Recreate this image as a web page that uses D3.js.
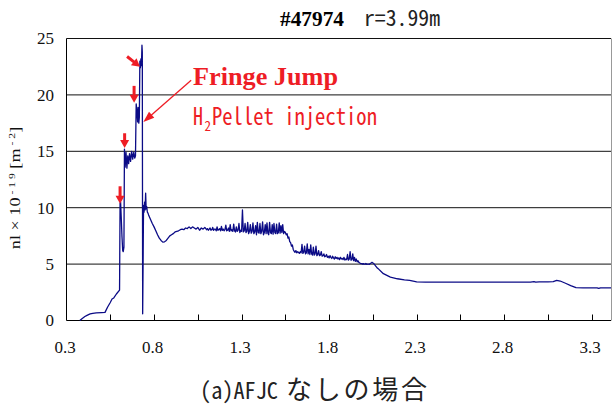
<!DOCTYPE html>
<html><head><meta charset="utf-8">
<script src="https://cdn.jsdelivr.net/npm/d3@7"></script>
<style>body{margin:0;background:#fff} svg{display:block}</style>
</head><body><svg id="c" width="613" height="410"></svg>
<script>
// ---------------- data ----------------
const xLabelTicks = [0.3, 0.8, 1.3, 1.8, 2.3, 2.8, 3.3];
const xMinorTicks = [0.55, 0.8, 1.05, 1.3, 1.55, 1.8, 2.05, 2.3, 2.55, 2.8, 3.05, 3.3];
const yTicks = [0, 5, 10, 15, 20, 25];
const yGrid = [5, 10, 15, 20, 25];

// start-up, pellet jumps and drop (time, nl)
const rampTimes = [0.376,0.39,0.405,0.42,0.435,0.45,0.47,0.50,0.52,0.535,0.55,0.56,0.57,0.585,0.603,
  0.606,0.609,0.613,0.617,0.621,0.624,0.628,0.631,0.635,0.640,0.645,0.650,0.655,0.660,0.666,0.672,0.678,0.684,0.690,0.694,
  0.698,0.702,0.706,0.709,0.713,0.716,0.719,0.722,0.725,0.728,0.731,0.733,0.735,0.738,0.740,0.743,0.746,0.749,0.752,0.755,0.758,0.762,0.766];
const rampValues = [0,0.18,0.35,0.48,0.58,0.64,0.68,0.70,0.72,1.2,1.6,1.9,2.0,2.35,2.7,
  10.4,10.5,9.0,7.4,6.2,6.1,6.5,15.2,13.6,14.9,13.5,14.6,13.9,14.8,14.1,15.0,14.3,14.9,14.4,14.6,
  19.2,18.6,17.6,18.9,17.5,18.0,23.0,22.4,23.2,22.6,24.4,23.8,0.6,6.0,10.2,9.6,10.5,9.8,11.3,9.9,10.1,9.6,9.5];

// post-drop recovery, sampled every 0.01 s from 0.77
const decayStart = 0.77;
const decayValues = [9.3,8.95,8.6,8.3,7.95,7.6,7.3,7.1,6.95,6.98,7.1,7.3,7.5,7.6,7.7,7.85,7.9,7.95,8.05,8.1,
  8.05,8.2,8.15,8.3,8.15,8.3,8.2,8.1,8.25,8.0,8.2,8.1,8.25];

// noisy plateau, sampled every 0.005 s from 1.10
const plateauStart = 1.10;
const plateauValues = [
  8.05,8.15,8.0,8.1,8.2,8.0,8.05,8.25,8.0,8.1,
  8.1,7.95,8.3,8.0,8.05,8.15,7.95,8.35,8.0,8.1,
  7.95,8.05,8.45,7.95,8.0,8.2,7.9,8.5,7.95,8.05,
  7.9,8.55,7.95,7.85,8.3,7.9,8.0,8.6,7.8,8.0,
  7.9,9.8,7.85,7.95,8.6,7.8,7.9,8.7,7.7,7.9,
  8.5,7.75,7.9,8.65,7.7,7.85,8.4,7.6,8.7,7.8,
  7.75,8.6,7.7,7.9,8.75,7.6,7.8,8.5,7.7,8.65,
  7.75,7.6,8.7,7.8,7.7,8.5,7.65,8.6,7.8,7.7,
  8.55,7.7,7.8,8.65,7.75,8.4,7.8,8.5,7.7,7.9];

// second noisy phase, sampled every 0.005 s from 1.55
const secondStart = 1.55;
const secondValues = [
  7.8,7.6,7.7,7.3,7.4,7.0,6.9,6.6,6.7,6.3,
  6.15,6.05,6.2,6.0,6.1,6.05,5.95,6.1,6.0,6.75,
  5.95,6.05,6.6,5.9,6.0,6.8,5.9,6.3,5.85,6.7,
  5.9,5.8,6.5,5.8,5.9,6.6,5.75,5.85,6.2,5.75,
  5.8,6.1,5.7,5.75,5.9,5.65,5.7,5.85,5.6,5.7,
  5.55,5.75,5.6,5.5,5.7,5.55,5.45,5.65,5.5,5.6,
  5.45,5.55,5.4,5.6,5.45,5.5,5.4,5.6,5.35,5.45,
  5.4,5.85,5.35,5.45,6.1,5.35,5.4,5.9,5.3,5.6,
  5.25,5.45,5.2,5.3,5.15,5.1,5.05,5.05,5.0,5.05,
  5.0,5.0,5.05,4.98,5.0,5.0,4.98,5.05,5.1,5.15,
  5.1,5.05,4.95,4.85,4.75,4.65];

// decay to the tail
const tailTimes = [2.08,2.11,2.15,2.19,2.23,2.26,2.30,2.35,2.5,2.7,2.95,2.97,2.98,3.00,3.05,3.08,3.10,3.12,3.15,3.18,3.21,3.25,3.33,3.34,3.35,3.43];
const tailValues = [4.6,4.15,3.85,3.7,3.6,3.55,3.42,3.4,3.4,3.4,3.4,3.45,3.4,3.42,3.42,3.45,3.55,3.5,3.3,3.1,2.92,2.9,2.9,2.85,2.9,2.9];

// annotation arrows (data coordinates)
const arrowsData = [
  {t0:0.606, v0:11.9, t1:0.606, v1:10.35, w:3, hl:8, hw:4.5},
  {t0:0.632, v0:16.6, t1:0.632, v1:15.3, w:3, hl:8, hw:4.5},
  {t0:0.686, v0:20.8, t1:0.686, v1:19.3, w:3, hl:8, hw:4.5},
  {t0:0.646, v0:23.4, t1:0.720, v1:22.5, w:3, hl:8, hw:4.5},
  {t0:1.012, v0:21.3, t1:0.739, v1:17.6, w:1.3, hl:11, hw:4}
];

// ---------------- build ----------------
const series = [];
rampTimes.forEach((t,i)=>series.push([t, rampValues[i]]));
decayValues.forEach((v,i)=>series.push([+(decayStart + i*0.01).toFixed(4), v]));
plateauValues.forEach((v,i)=>series.push([+(plateauStart + i*0.005).toFixed(4), v]));
secondValues.forEach((v,i)=>series.push([+(secondStart + i*0.005).toFixed(4), v]));
tailTimes.forEach((t,i)=>series.push([t, tailValues[i]]));

const svg = d3.select("#c");
const RED = "#ee1d25";
const x = d3.scaleLinear().domain([0.3, 3.41]).range([66.5, 611]);
const y = d3.scaleLinear().domain([0, 25]).range([320.5, 38.5]);

svg.append("rect").attr("width",613).attr("height",410).attr("fill","#fff");

// gridlines
svg.append("g").selectAll("line").data(yGrid).join("line")
  .attr("x1", x(0.3)).attr("x2", 611).attr("y1", d=>y(d)).attr("y2", d=>y(d))
  .attr("stroke","#111").attr("stroke-width",1);

// right border
svg.append("line").attr("x1",611.5).attr("x2",611.5).attr("y1",y(25)).attr("y2",y(0))
  .attr("stroke","#999").attr("stroke-width",1);

// axes lines
svg.append("line").attr("x1",x(0.3)).attr("x2",x(0.3)).attr("y1",y(25)).attr("y2",y(0)).attr("stroke","#000");
svg.append("line").attr("x1",x(0.3)).attr("x2",611).attr("y1",y(0)).attr("y2",y(0)).attr("stroke","#000");

// x minor ticks (inward)
svg.append("g").selectAll("line").data(xMinorTicks).join("line")
  .attr("x1", d=>Math.round(x(d))+0.5).attr("x2", d=>Math.round(x(d))+0.5)
  .attr("y1", y(0)).attr("y2", y(0)-6).attr("stroke","#000");

// x labels
svg.append("g").selectAll("text").data(xLabelTicks).join("text")
  .attr("x", d=>x(d)-1.5).attr("y", 353).attr("text-anchor","middle")
  .style("font-family","'Liberation Serif','Times New Roman',serif").style("font-size","17px").attr("fill","#111")
  .text(d=>d.toFixed(1));

// y labels
svg.append("g").selectAll("text").data(yTicks).join("text")
  .attr("x", 54).attr("y", d=>y(d)+5.8).attr("text-anchor","end")
  .style("font-family","'Liberation Serif','Times New Roman',serif").style("font-size","17px").attr("fill","#111")
  .text(d=>d);

// y-axis title
const yl = svg.append("text").attr("transform","translate(20,188) rotate(-90) scale(1.3,1)")
  .attr("text-anchor","middle").attr("fill","#111")
  .style("font-family","'Liberation Serif','Times New Roman',serif").style("font-size","14px");
yl.append("tspan").text("nl × 10");
yl.append("tspan").attr("dy",-5).style("font-size","9px").text(" - 1 9");
yl.append("tspan").attr("dy",5).text(" [m");
yl.append("tspan").attr("dy",-5).style("font-size","9px").text(" - 2");
yl.append("tspan").attr("dy",5).text("]");

// data line
svg.append("clipPath").attr("id","clip").append("rect")
  .attr("x", x(0.3)).attr("y", 0).attr("width", 611 - x(0.3)).attr("height", y(0)+1);
svg.append("path").datum(series)
  .attr("clip-path","url(#clip)")
  .attr("d", d3.line().x(d=>x(d[0])).y(d=>y(d[1])))
  .attr("fill","none").attr("stroke","#0b0b86").attr("stroke-width",1.3).attr("stroke-linejoin","round");

// arrows
const ag = svg.append("g");
arrowsData.forEach(a=>{
  const x0=x(a.t0), y0=y(a.v0), x1=x(a.t1), y1=y(a.v1);
  const dx=x1-x0, dy=y1-y0, L=Math.hypot(dx,dy), ux=dx/L, uy=dy/L;
  const bx=x1-ux*a.hl, by=y1-uy*a.hl;
  ag.append("line").attr("x1",x0).attr("y1",y0).attr("x2",bx+ux).attr("y2",by+uy)
    .attr("stroke",RED).attr("stroke-width",a.w);
  ag.append("polygon").attr("fill",RED)
    .attr("points",[[x1,y1],[bx-uy*a.hw,by+ux*a.hw],[bx+uy*a.hw,by-ux*a.hw]].map(p=>p.join(",")).join(" "));
});

// annotation texts
svg.append("text").attr("x",193).attr("y",85).attr("fill",RED)
  .style("font-family","'Liberation Serif','Times New Roman',serif").style("font-size","26px").style("font-weight","bold")
  .attr("textLength",145).attr("lengthAdjust","spacingAndGlyphs").text("Fringe Jump");
const cjk = "'Noto Sans CJK JP','Noto Sans',sans-serif";
svg.append("text").attr("x",193).attr("y",125).attr("fill",RED)
  .style("font-family",cjk).style("font-size","24px").style("font-feature-settings","'hwid' 1")
  .attr("textLength",10).attr("lengthAdjust","spacingAndGlyphs").text("H");
svg.append("text").attr("x",204.5).attr("y",131).attr("fill",RED)
  .style("font-family",cjk).style("font-size","14px").style("font-feature-settings","'hwid' 1")
  .attr("textLength",6.5).attr("lengthAdjust","spacingAndGlyphs").text("2");
svg.append("text").attr("x",212).attr("y",125).attr("fill",RED)
  .style("font-family",cjk).style("font-size","24px").style("font-feature-settings","'hwid' 1")
  .attr("textLength",165).attr("lengthAdjust","spacingAndGlyphs").text("Pellet injection");

// title
svg.append("text").attr("x",280).attr("y",26).attr("fill","#000")
  .style("font-family","'Liberation Serif','Times New Roman',serif").style("font-size","20px").style("font-weight","bold")
  .attr("textLength",64).attr("lengthAdjust","spacingAndGlyphs").text("#47974");
svg.append("text").attr("x",364).attr("y",26).attr("fill","#222")
  .style("font-family",cjk).style("font-size","22px").style("font-feature-settings","'hwid' 1")
  .attr("textLength",76).attr("lengthAdjust","spacingAndGlyphs").text("r=3.99m");

// caption
svg.append("text").attr("x",200).attr("y",399).attr("fill","#222")
  .style("font-family",cjk).style("font-size","23px").style("font-feature-settings","'hwid' 1")
  .attr("textLength",78).attr("lengthAdjust","spacingAndGlyphs").text("(a)AFJC");
svg.append("text").attr("x",286).attr("y",399).attr("fill","#222")
  .style("font-family",cjk).style("font-size","26px")
  .attr("textLength",141).attr("lengthAdjust","spacing").text("なしの場合");
</script>
</body></html>
